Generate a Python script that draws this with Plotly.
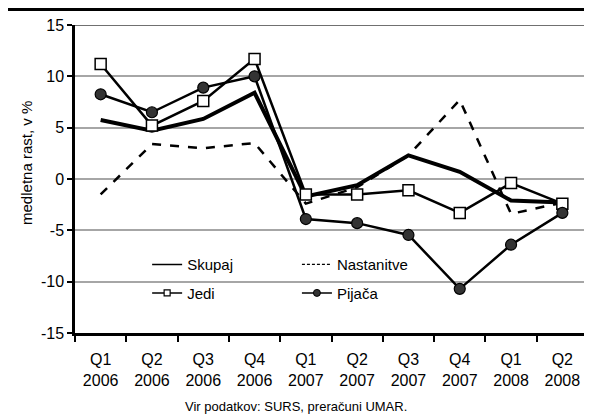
import plotly.graph_objects as go

# ---- podatki (odčitano s slike) ----
QUARTERS = ["Q1<br>2006", "Q2<br>2006", "Q3<br>2006", "Q4<br>2006",
            "Q1<br>2007", "Q2<br>2007", "Q3<br>2007", "Q4<br>2007",
            "Q1<br>2008", "Q2<br>2008"]
SKUPAJ = [5.75, 4.7, 5.85, 8.4, -1.7, -0.6, 2.3, 0.7, -2.1, -2.3]
NASTANITVE = [-1.5, 3.4, 3.0, 3.5, -2.4, -0.8, 2.3, 7.7, -3.4, -2.3]
JEDI = [11.2, 5.2, 7.6, 11.7, -1.5, -1.5, -1.1, -3.3, -0.4, -2.4]
PIJACA = [8.25, 6.5, 8.9, 10.0, -3.9, -4.3, -5.45, -10.7, -6.4, -3.3]
Y_TICKVALS = [-15, -10, -5, 0, 5, 10, 15]
Y_TICKTEXT = ["-15", "-10", "-5", "0", "5", "10", "15"]

FONT = "Liberation Sans, Arial, sans-serif"
INK = "#000000"
GRID = "#a6a6a6"

fig = go.Figure()
# serije v grafu (brez legende)
fig.add_trace(go.Scatter(x=QUARTERS, y=SKUPAJ, mode="lines", showlegend=False,
                         line=dict(color=INK, width=4)))
fig.add_trace(go.Scatter(x=QUARTERS, y=NASTANITVE, mode="lines", showlegend=False,
                         line=dict(color=INK, width=2.5, dash="dash")))
fig.add_trace(go.Scatter(x=QUARTERS, y=JEDI, mode="lines+markers", showlegend=False,
                         line=dict(color=INK, width=2.5),
                         marker=dict(symbol="square", size=11, color="white",
                                     line=dict(color=INK, width=1.5))))
fig.add_trace(go.Scatter(x=QUARTERS, y=PIJACA, mode="lines+markers", showlegend=False,
                         line=dict(color=INK, width=2.5),
                         marker=dict(symbol="circle", size=11, color="#333333",
                                     line=dict(color=INK, width=1.2))))

# vnosi legende: tanke črte, majhni znaki (kot v izvirniku)
fig.add_trace(go.Scatter(x=[None], y=[None], name="Skupaj", mode="lines",
                         line=dict(color=INK, width=1.5), legend="legend",
                         legendgroup="a"))
fig.add_trace(go.Scatter(x=[None], y=[None], name="Jedi", mode="lines+markers",
                         line=dict(color=INK, width=1.5),
                         marker=dict(symbol="square", size=6, color="white",
                                     line=dict(color=INK, width=1.2)),
                         legend="legend", legendgroup="b"))
fig.add_trace(go.Scatter(x=[None], y=[None], name="Nastanitve", mode="lines",
                         line=dict(color=INK, width=1.2, dash="3px,2px"), legend="legend2",
                         legendgroup="c"))
fig.add_trace(go.Scatter(x=[None], y=[None], name="Pijača", mode="lines+markers",
                         line=dict(color=INK, width=1.5),
                         marker=dict(symbol="circle", size=7, color="#333333",
                                     line=dict(color=INK, width=1)),
                         legend="legend2", legendgroup="d"))

leg = dict(bgcolor="rgba(0,0,0,0)", font=dict(family=FONT, size=15, color=INK),
           yanchor="top", y=0.2755, xanchor="left", tracegroupgap=6, itemwidth=30)
# stran ima 8 px roba (body margin) -> slika 584x408
fig.update_layout(
    width=584, height=408,
    paper_bgcolor="white", plot_bgcolor="white",
    font=dict(family=FONT, size=16, color=INK),
    margin=dict(l=67, r=4, t=17, b=83),
    showlegend=True,
    legend=dict(leg, x=0.1406),
    legend2=dict(leg, x=0.4326),
)
fig.update_xaxes(range=[-0.5, 9.5], tickson="boundaries", ticks="outside", ticklen=6,
                 tickwidth=2, tickcolor=INK, showline=True, linecolor=INK, linewidth=2.5,
                 showgrid=False, ticklabelstandoff=10, tickfont=dict(size=16))
fig.update_yaxes(range=[-15, 15], tickvals=Y_TICKVALS, ticktext=Y_TICKTEXT,
                 ticks="outside", ticklen=5, tickwidth=1.5,
                 tickcolor=INK, showline=True, linecolor=INK, linewidth=2.5,
                 mirror=False, showgrid=True, gridcolor=GRID, gridwidth=1.5,
                 zeroline=False, tickfont=dict(size=16))

# naslov osi y (v izvirniku nad sredino osi)
fig.add_annotation(text="medletna rast, v %", xref="paper", yref="paper",
                   x=-0.0936, y=0.552, textangle=-90, showarrow=False,
                   xanchor="center", yanchor="middle",
                   font=dict(family=FONT, size=15, color=INK))

# okvir: zgornja in desna črta
fig.add_shape(type="line", xref="x domain", yref="y", x0=0, x1=1, y0=15, y1=15,
              line=dict(color="#404040", width=1.5))
fig.add_shape(type="line", xref="x domain", yref="y domain", x0=1, x1=1, y0=0, y1=1,
              line=dict(color=INK, width=2))
# bela podlaga legende (prekrije mrežo pri -10, pod serijami)
fig.add_shape(type="rect", xref="x", yref="y", x0=0.18, x1=6.03, y0=-7.2, y1=-13.6,
              fillcolor="white", line=dict(width=0), layer="below")
# debela črta na vrhu (pod odrezanim naslovom)
fig.add_shape(type="line", xref="paper", yref="paper", x0=-0.2, x1=1.05,
              y0=1.05, y1=1.05, line=dict(color=INK, width=3))

fig.add_annotation(text="Vir podatkov: SURS, preračuni UMAR.", xref="paper", yref="paper",
                   x=0.431, y=-0.24, xanchor="center", yanchor="middle", showarrow=False,
                   font=dict(family=FONT, size=13, color=INK))

fig.write_html("out.html")
